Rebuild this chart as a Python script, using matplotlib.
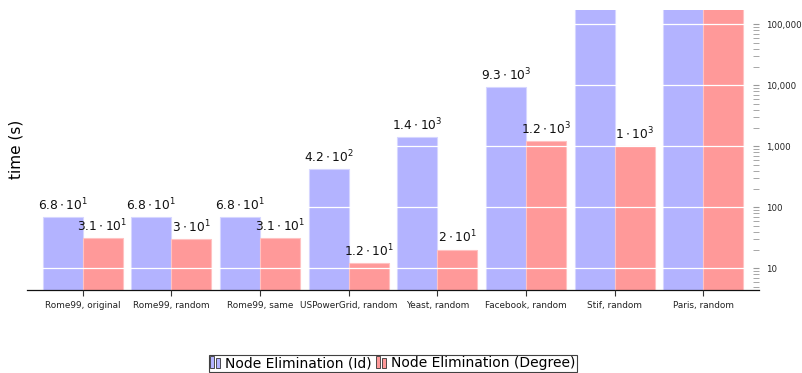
import matplotlib
matplotlib.use("Agg")
import matplotlib.pyplot as plt
import numpy as np
from matplotlib.patches import Patch, Rectangle
from matplotlib.legend_handler import HandlerBase
from matplotlib.ticker import LogLocator, FixedLocator, FuncFormatter, NullFormatter

plt.rcParams["mathtext.fontset"] = "dejavusans"
plt.rcParams["font.family"] = ["DejaVu Sans"]

categories = ["Rome99, original", "Rome99, random", "Rome99, same", "USPowerGrid, random",
              "Yeast, random", "Facebook, random", "Stif, random", "Paris, random"]
# run times in seconds; the last runs go past the top of the axis
time_id = [68, 68, 68, 420, 1400, 9300, 2.0e5, 2.0e5]
time_degree = [31, 30, 31, 12, 20, 1200, 1000, 2.0e5]
series_names = ["Node Elimination (Id)", "Node Elimination (Degree)"]
y_ticks = [10, 100, 1000, 10000, 100000]

color_id = "#b3b3ff"
color_deg = "#ff9999"
edge_id = "#d6d6ff"
edge_deg = "#ffc2c2"

y_bottom, y_top = 4.4, 1.75e5


def sci_label(v):
    e = int(np.floor(np.log10(v)))
    m = round(v / 10 ** e, 1)
    ms = f"{m:.1f}".rstrip("0").rstrip(".")
    return rf"${ms} \cdot 10^{{{e}}}$"


fig = plt.figure(figsize=(8.02, 3.73), dpi=100)
ax = fig.add_axes([27 / 802, 83 / 373, 732 / 802, 280.5 / 373])

x = np.arange(len(categories))
w = 0.45
bars_id = ax.bar(x - w / 2, time_id, width=w, color=color_id, edgecolor=edge_id, linewidth=0.8, zorder=1)
bars_deg = ax.bar(x + w / 2, time_degree, width=w, color=color_deg, edgecolor=edge_deg, linewidth=0.8, zorder=1)

ax.set_yscale("log")
ax.set_ylim(y_bottom, y_top)
ax.set_xlim(-0.627, len(categories) - 1 + 0.627)

for bars, vals in ((bars_id, time_id), (bars_deg, time_degree)):
    for b, v in zip(bars, vals):
        if v < y_top:
            ax.annotate(sci_label(v), (b.get_x() + b.get_width() / 2, v),
                        xytext=(0, 3), textcoords="offset points",
                        ha="center", va="bottom", fontsize=8.8, color="#111111", zorder=4)

# white horizontal grid drawn over the bars
ax.set_axisbelow(False)
ax.yaxis.grid(True, which="major", color="white", linewidth=0.9)
ax.xaxis.grid(False)

ax.set_xticks(x)
ax.set_xticklabels(categories, fontsize=6.4, color="#222222")
ax.tick_params(axis="x", direction="out", length=4, width=0.8, color="#333333", pad=4)

ax.yaxis.tick_right()
ax.yaxis.set_major_locator(FixedLocator(y_ticks))
ax.yaxis.set_major_formatter(FuncFormatter(lambda v, p: f"{int(round(v)):,}"))
ax.yaxis.set_minor_locator(LogLocator(base=10, subs=np.arange(2, 10), numticks=20))
ax.yaxis.set_minor_formatter(NullFormatter())
ax.tick_params(axis="y", which="major", direction="in", length=4.5, width=0.8,
               color="#999999", labelsize=6.2, labelcolor="#222222", pad=5)
ax.tick_params(axis="y", which="minor", direction="in", length=4, width=0.6, color="#999999")

for s in ("left", "right", "top"):
    ax.spines[s].set_visible(False)
ax.spines["bottom"].set_color("#111111")
ax.spines["bottom"].set_linewidth(0.9)

ax.yaxis.set_label_position("left")
ax.set_ylabel("time (s)", fontsize=11)
ax.yaxis.set_label_coords(-0.005, 0.5)


class TwoBarHandler(HandlerBase):
    def create_artists(self, legend, orig_handle, xdescent, ydescent, width, height, fontsize, trans):
        fc = orig_handle.get_facecolor()
        bw = width * 0.36
        gap = width * 0.18
        r1 = Rectangle((-xdescent, -ydescent), bw, height * 1.15,
                       facecolor=fc, edgecolor="#333333", linewidth=0.6, transform=trans)
        r2 = Rectangle((-xdescent + bw + gap, -ydescent), bw, height * 0.95,
                       facecolor=fc, edgecolor="#333333", linewidth=0.6, transform=trans)
        return [r1, r2]


handles = [Patch(facecolor=color_id), Patch(facecolor=color_deg)]
leg = fig.legend(handles, series_names, loc="upper center", bbox_to_anchor=(393 / 802, 18 / 373),
                 ncol=2, fontsize=10, frameon=True, fancybox=False, edgecolor="#111111",
                 handler_map={Patch: TwoBarHandler()}, handlelength=0.8, handleheight=0.8,
                 handletextpad=0.3, columnspacing=0.3, borderpad=0.1, borderaxespad=0)
leg.get_frame().set_linewidth(0.8)

fig.savefig("out.png", dpi=100)
